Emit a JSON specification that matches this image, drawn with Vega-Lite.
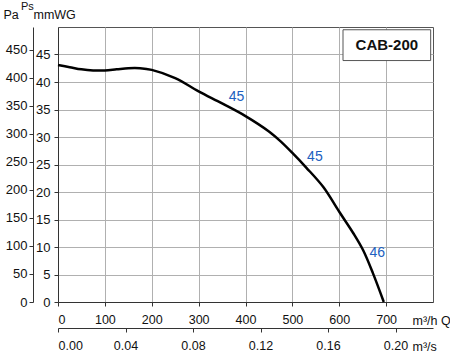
{
  "$schema": "https://vega.github.io/schema/vega-lite/v6.json",
  "width": 375,
  "height": 275,
  "autosize": "none",
  "padding": {"left": 58, "top": 27, "right": 17, "bottom": 51},
  "config": {
    "font": "Liberation Sans",
    "view": {"stroke": "#555", "strokeWidth": 1},
    "axis": {
      "labelFont": "Liberation Sans", "titleFont": "Liberation Sans",
      "labelColor": "#111", "titleColor": "#111", "domainColor": "#333", "tickColor": "#333",
      "gridColor": "#b0b0b0", "titleFontWeight": "normal", "titleFontSize": 12.5, "labelFontSize": 13,
      "tickSize": 4, "titleAngle": 0, "titleAlign": "left", "titleBaseline": "alphabetic"
    }
  },
  "title": {"text": "Ps", "anchor": "start", "frame": "group", "fontSize": 11, "fontWeight": "normal", "color": "#111", "baseline": "alphabetic", "offset": 0, "dx": -37, "dy": 13},
  "resolve": {"scale": {"x": "independent", "y": "independent"}, "axis": {"x": "independent", "y": "independent"}},
  "layer": [
    {
      "data": {"values": [
        {"Q": 0, "mmWG": 43.1}, {"Q": 25, "mmWG": 42.7}, {"Q": 50, "mmWG": 42.3}, {"Q": 75, "mmWG": 42.1},
        {"Q": 100, "mmWG": 42.1}, {"Q": 125, "mmWG": 42.3}, {"Q": 150, "mmWG": 42.5}, {"Q": 175, "mmWG": 42.5},
        {"Q": 200, "mmWG": 42.2}, {"Q": 250, "mmWG": 40.7}, {"Q": 300, "mmWG": 38.3}, {"Q": 350, "mmWG": 36.1},
        {"Q": 400, "mmWG": 33.8}, {"Q": 450, "mmWG": 31.0}, {"Q": 475, "mmWG": 29.2}, {"Q": 500, "mmWG": 27.1},
        {"Q": 530, "mmWG": 24.4}, {"Q": 566, "mmWG": 20.9}, {"Q": 600, "mmWG": 16.4}, {"Q": 630, "mmWG": 12.5},
        {"Q": 651, "mmWG": 9.4}, {"Q": 672, "mmWG": 5.2}, {"Q": 695, "mmWG": 0}
      ]},
      "mark": {"type": "line", "color": "#000", "strokeWidth": 2.5, "interpolate": "catmull-rom"},
      "encoding": {
        "x": {"field": "Q", "type": "quantitative", "scale": {"domain": [0, 800], "nice": false},
          "axis": {"orient": "bottom", "values": [0, 100, 200, 300, 400, 500, 600, 700], "grid": true, "labelFontSize": 12.5,
            "labelPadding": 7, "title": "m³/h Q", "titleX": 354, "titleY": 22}},
        "y": {"field": "mmWG", "type": "quantitative", "scale": {"domain": [0, 50], "nice": false},
          "axis": {"orient": "left", "values": [0, 5, 10, 15, 20, 25, 30, 35, 40, 45], "grid": true,
            "labelPadding": 4, "title": "mmWG", "titleX": -25, "titleY": -9}}
      }
    },
    {
      "data": {"values": [{"Q": 608, "Q2": 795, "p": 43.9, "p2": 49.5}]},
      "mark": {"type": "rect", "fill": "#fff", "stroke": "#555", "strokeWidth": 1},
      "encoding": {
        "x": {"field": "Q", "type": "quantitative", "scale": {"domain": [0, 800], "nice": false}, "axis": null},
        "x2": {"field": "Q2"},
        "y": {"field": "p", "type": "quantitative", "scale": {"domain": [0, 50], "nice": false}, "axis": null},
        "y2": {"field": "p2"}
      }
    },
    {
      "data": {"values": [{"Q": 701.5, "p": 46.7, "label": "CAB-200"}]},
      "mark": {"type": "text", "fontSize": 15, "fontWeight": "bold", "color": "#111", "baseline": "middle", "align": "center"},
      "encoding": {
        "x": {"field": "Q", "type": "quantitative", "scale": {"domain": [0, 800], "nice": false}, "axis": null},
        "y": {"field": "p", "type": "quantitative", "scale": {"domain": [0, 50], "nice": false}, "axis": null},
        "text": {"field": "label"}
      }
    },
    {
      "data": {"values": [
        {"Q": 381, "p": 37.3, "label": "45"},
        {"Q": 548, "p": 26.3, "label": "45"},
        {"Q": 681, "p": 8.9, "label": "46"}
      ]},
      "mark": {"type": "text", "fontSize": 14, "color": "#2060c0", "baseline": "middle", "align": "center"},
      "encoding": {
        "x": {"field": "Q", "type": "quantitative", "scale": {"domain": [0, 800], "nice": false}, "axis": null},
        "y": {"field": "p", "type": "quantitative", "scale": {"domain": [0, 50], "nice": false}, "axis": null},
        "text": {"field": "label"}
      }
    },
    {
      "data": {"values": [{"Pa": 0}, {"Pa": 450}]},
      "mark": {"type": "point", "opacity": 0},
      "encoding": {
        "y": {"field": "Pa", "type": "quantitative", "scale": {"domain": [0, 490.3], "nice": false},
          "axis": {"orient": "left", "offset": 25, "values": [0, 50, 100, 150, 200, 250, 300, 350, 400, 450], "grid": false,
            "labelPadding": 2, "title": "Pa", "titleX": -30, "titleY": -9}}
      }
    },
    {
      "data": {"values": [{"Qs": 0}, {"Qs": 0.2}]},
      "mark": {"type": "point", "opacity": 0},
      "encoding": {
        "x": {"field": "Qs", "type": "quantitative", "scale": {"domain": [0, 0.222222], "nice": false},
          "axis": {"orient": "bottom", "offset": 26, "values": [0, 0.04, 0.08, 0.12, 0.16, 0.2], "format": ".2f", "grid": false,
            "labelFontSize": 12.5, "labelPadding": 7, "title": "m³/s", "titleX": 354, "titleY": 22}}
      }
    }
  ]
}
